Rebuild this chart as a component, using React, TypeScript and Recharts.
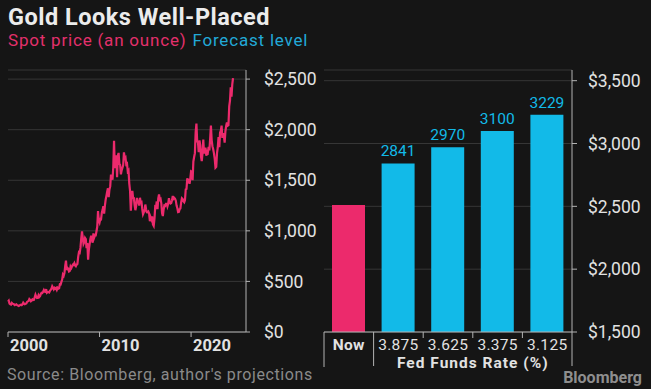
import React from "react"
import { LineChart, Line, BarChart, Bar, Cell, LabelList, XAxis, YAxis, CartesianGrid } from "recharts"

// monthly gold spot price, Jan 2000 .. Aug 2024 (USD an ounce)
const startYear = 2000
const monthlyPrice = [
  300, 310, 280, 275, 272, 288, 280, 277, 273, 265, 270, 273, // 2000
  265, 262, 258, 262, 268, 270, 266, 273, 290, 280, 274, 278, // 2001
  282, 297, 302, 308, 326, 318, 305, 312, 323, 316, 318, 343, // 2002
  368, 348, 336, 338, 363, 346, 354, 375, 388, 386, 398, 415, // 2003
  400, 397, 424, 388, 394, 395, 391, 408, 416, 428, 452, 438, // 2004
  422, 436, 428, 435, 417, 437, 429, 433, 472, 470, 496, 518, // 2005
  568, 556, 582, 654, 705, 613, 633, 624, 599, 604, 646, 632, // 2006
  650, 665, 662, 680, 660, 650, 666, 673, 743, 789, 783, 834, // 2007
  924, 995, 933, 870, 887, 930, 918, 828, 880, 715, 814, 869, // 2008
  919, 952, 916, 883, 975, 934, 955, 955, 996, 1040, 1195, 1104, // 2009
  1083, 1118, 1115, 1179, 1207, 1244, 1169, 1246, 1307, 1346, 1386, 1421, // 2010
  1333, 1409, 1439, 1556, 1536, 1505, 1628, 1890, 1620, 1722, 1746, 1531, // 2011
  1744, 1770, 1662, 1651, 1558, 1598, 1622, 1648, 1776, 1719, 1726, 1657, // 2012
  1664, 1588, 1598, 1467, 1394, 1200, 1314, 1396, 1326, 1324, 1253, 1204, // 2013
  1244, 1326, 1284, 1288, 1250, 1327, 1282, 1286, 1216, 1164, 1182, 1199, // 2014
  1260, 1213, 1183, 1182, 1190, 1171, 1095, 1134, 1114, 1142, 1064, 1050, // 2015
  1118, 1238, 1232, 1290, 1214, 1320, 1360, 1308, 1315, 1272, 1173, 1146, // 2016
  1211, 1251, 1247, 1268, 1268, 1242, 1269, 1322, 1283, 1271, 1275, 1303, // 2017
  1345, 1317, 1325, 1316, 1298, 1250, 1224, 1185, 1187, 1215, 1221, 1281, // 2018
  1321, 1313, 1292, 1283, 1305, 1409, 1414, 1520, 1472, 1513, 1464, 1517, // 2019
  1589, 1585, 1500, 1686, 1730, 1768, 1975, 2060, 1886, 1879, 1777, 1895, // 2020
  1848, 1734, 1690, 1769, 1903, 1763, 1814, 1814, 1743, 1784, 1775, 1829, // 2021
  1796, 1909, 2040, 1897, 1837, 1807, 1766, 1711, 1625, 1633, 1768, 1824, // 2022
  1928, 1827, 1969, 1990, 2040, 1919, 1965, 1940, 1871, 1983, 2036, 2070, // 2023
  2039, 2044, 2230, 2286, 2420, 2326, 2447, 2510, // 2024
]
const priceTicks = [0, 500, 1000, 1500, 2000, 2500]
const yearTicks = [2000, 2010, 2020]

const rateLabels = ["Now", "3.875", "3.625", "3.375", "3.125"]
const forecastValues = [2510, 2841, 2970, 3100, 3229]
const forecastTicks = [1500, 2000, 2500, 3000, 3500]

const goldData = monthlyPrice.map((p, i) => ({ t: startYear + i / 12, price: p }))
const forecastData = rateLabels.map((r, i) => ({ rate: r, value: forecastValues[i] }))

const BG = "#151515"
const PINK = "#ec2a6c"
const BLUE = "#12bae8"
const AXIS = "#b3b3b3"
const GRID = "#363636"
const TEXT = "#e2e2e2"
const FONT = "Roboto, 'Noto Sans', sans-serif"
const HALF_BAND = 24.8

const dollars = (v: number) => "$" + v.toLocaleString("en-US")

function YearTick({ x, y, payload }: any) {
  return (
    <text x={x + 2} y={y} dy="0.71em" textAnchor="start" fill={TEXT} fontSize={16.5} fontWeight={700} fontFamily={FONT}>
      {payload.value}
    </text>
  )
}

function RateTick({ x, y, payload, index }: any) {
  const right = x + HALF_BAND
  return (
    <g>
      {index === 0 && <line x1={x - HALF_BAND} x2={x - HALF_BAND} y1={y} y2={y + 35} stroke={AXIS} />}
      {(index === 0 || index === 4) && <line x1={right} x2={right} y1={y} y2={y + 34} stroke={AXIS} />}
      {index > 0 && index < 4 && <line x1={right} x2={right} y1={y} y2={y + 6} stroke={AXIS} />}
      <text x={x} y={y + 18} textAnchor="middle" fill={TEXT} fontSize={15.5} fontWeight={index === 0 ? 700 : 400} fontFamily={FONT} letterSpacing={0.3}>
        {payload.value}
      </text>
      {index === 2 && (
        <text x={right} y={y + 36} textAnchor="middle" fill={TEXT} fontSize={15.5} fontWeight={700} fontFamily={FONT} letterSpacing={1}>
          Fed Funds Rate (%)
        </text>
      )}
    </g>
  )
}

function ForecastLabel({ x, y, width, value, index }: any) {
  if (index === 0) return null
  return (
    <text x={x + width / 2} y={y - 7} textAnchor="middle" fill={BLUE} fontSize={15.5} fontFamily={FONT}>
      {value}
    </text>
  )
}

export default function App() {
  const yTick = { fill: TEXT, fontSize: 17.5, fontFamily: FONT }
  return (
    <div style={{ position: "absolute", left: 0, top: 0, width: 651, height: 389, background: BG, fontFamily: FONT, overflow: "hidden" }}>
      <div style={{ position: "absolute", left: 8, top: 6.3, fontSize: 23.5, lineHeight: 1, fontWeight: 700, letterSpacing: 0.5, color: "#ececec", whiteSpace: "nowrap" }}>
        Gold Looks Well-Placed
      </div>
      <div style={{ position: "absolute", left: 8, top: 32.4, fontSize: 17, lineHeight: 1, letterSpacing: 0.8, whiteSpace: "nowrap" }}>
        <span style={{ color: "#e3306c" }}>Spot price (an ounce)</span>
        <span style={{ color: "#22a9d8", marginLeft: 6 }}>Forecast level</span>
      </div>

      <div style={{ position: "absolute", left: 0, top: 0 }}>
        <LineChart width={330} height={360} data={goldData} margin={{ top: 70, right: 0, bottom: 0, left: 8 }}>
          <CartesianGrid vertical={false} stroke={GRID} />
          <XAxis
            dataKey="t"
            type="number"
            domain={[2000, 2026]}
            ticks={yearTicks}
            interval={0}
            height={28}
            tickSize={5}
            axisLine={{ stroke: AXIS }}
            tickLine={{ stroke: AXIS }}
            tick={<YearTick />}
          />
          <YAxis
            orientation="right"
            width={84}
            domain={[0, 2590]}
            ticks={priceTicks}
            interval={0}
            tickSize={4}
            tickMargin={14}
            axisLine={{ stroke: AXIS }}
            tickLine={{ stroke: AXIS }}
            tick={yTick}
            tickFormatter={dollars}
          />
          <Line dataKey="price" stroke={PINK} strokeWidth={2.2} dot={false} isAnimationActive={false} />
        </LineChart>
      </div>

      <div style={{ position: "absolute", left: 316, top: 0 }}>
        <BarChart width={335} height={389} data={forecastData} margin={{ top: 70, right: 0, bottom: 0, left: 8 }}>
          <CartesianGrid vertical={false} stroke={GRID} />
          <XAxis
            dataKey="rate"
            height={57}
            interval={0}
            tickSize={0}
            tickMargin={0}
            axisLine={{ stroke: AXIS }}
            tickLine={false}
            tick={<RateTick />}
          />
          <YAxis
            orientation="right"
            width={79}
            domain={[1500, 3585]}
            ticks={forecastTicks}
            interval={0}
            tickSize={5}
            tickMargin={11}
            axisLine={{ stroke: AXIS }}
            tickLine={{ stroke: AXIS }}
            tick={yTick}
            tickFormatter={dollars}
          />
          <Bar dataKey="value" barSize={33} isAnimationActive={false}>
            {forecastData.map((d, i) => (
              <Cell key={d.rate} fill={i === 0 ? PINK : BLUE} />
            ))}
            <LabelList dataKey="value" content={<ForecastLabel />} />
          </Bar>
        </BarChart>
      </div>

      <div style={{ position: "absolute", left: 7, top: 367, fontSize: 16, lineHeight: 1, letterSpacing: 0.6, color: "#8a8a8a", whiteSpace: "nowrap" }}>
        Source: Bloomberg, author's projections
      </div>
      <div style={{ position: "absolute", right: 9, top: 370, fontSize: 16, lineHeight: 1, fontWeight: 700, color: "#8e8e8e", whiteSpace: "nowrap" }}>
        Bloomberg
      </div>
    </div>
  )
}
